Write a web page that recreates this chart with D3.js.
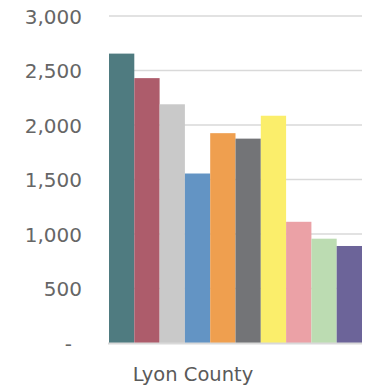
<!DOCTYPE html>
<html><head><meta charset="utf-8">
<script src="https://cdn.jsdelivr.net/npm/d3@7"></script>
<style>html,body{margin:0;padding:0;background:#fff;}</style>
</head><body>
<svg id="chart" width="371" height="391"></svg>
<script>
const categories = ["Series 1","Series 2","Series 3","Series 4","Series 5","Series 6","Series 7","Series 8","Series 9","Series 10"];
const values = [2655, 2430, 2190, 1555, 1925, 1875, 2085, 1112, 957, 890];
const colors = ["#4f7b80","#ad5c6b","#c9c9c9","#6394c4","#ef9f4f","#737477","#fbee6b","#eba1a6","#bcdcb2","#6c6499"];
const groupLabel = "Lyon County";
const tickValues = [0, 500, 1000, 1500, 2000, 2500, 3000];

(function () {
const svg = d3.select("#chart");
const mLeft = 109, mRight = 362, mTop = 16, mBottom = 343;

const y = d3.scaleLinear().domain([0, 3000]).range([mBottom, mTop]);
const x = d3.scaleBand().domain(categories).range([mLeft, mRight]).padding(0);

// gridlines
svg.append("g").selectAll("line").data(tickValues.filter(d => d > 0)).join("line")
  .attr("x1", mLeft).attr("x2", mRight)
  .attr("y1", d => y(d)).attr("y2", d => y(d))
  .attr("stroke", "#d9d9d9").attr("stroke-width", 1.5);

// bars
svg.append("g").selectAll("rect").data(values).join("rect")
  .attr("x", (d, i) => x(categories[i]))
  .attr("width", x.bandwidth())
  .attr("y", d => y(d))
  .attr("height", d => y(0) - y(d))
  .attr("fill", (d, i) => colors[i]);

// baseline
svg.append("line").attr("x1", mLeft - 1).attr("x2", mRight)
  .attr("y1", y(0) + 0.5).attr("y2", y(0) + 0.5)
  .attr("stroke", "#d9d9d9").attr("stroke-width", 2);

// y axis labels
const fmt = d3.format(",");
const yAxis = d3.axisLeft(y).tickValues(tickValues).tickSize(0).tickPadding(0)
  .tickFormat(d => d === 0 ? "-" : fmt(d));
const ga = svg.append("g").attr("transform", "translate(82,0)").call(yAxis);
ga.select(".domain").remove();
ga.selectAll("text")
  .attr("font-family", "'DejaVu Sans', sans-serif")
  .attr("font-size", 20)
  .attr("fill", "#666666")
  .attr("dy", "0.36em")
  .attr("dx", d => d === 0 ? -10 : 0);

// category label
svg.append("text").attr("x", 193).attr("y", 381)
  .attr("text-anchor", "middle")
  .attr("font-family", "'DejaVu Sans', sans-serif")
  .attr("font-size", 19.5)
  .attr("fill", "#5a5a5a")
  .text(groupLabel);
})();
</script>
</body></html>
